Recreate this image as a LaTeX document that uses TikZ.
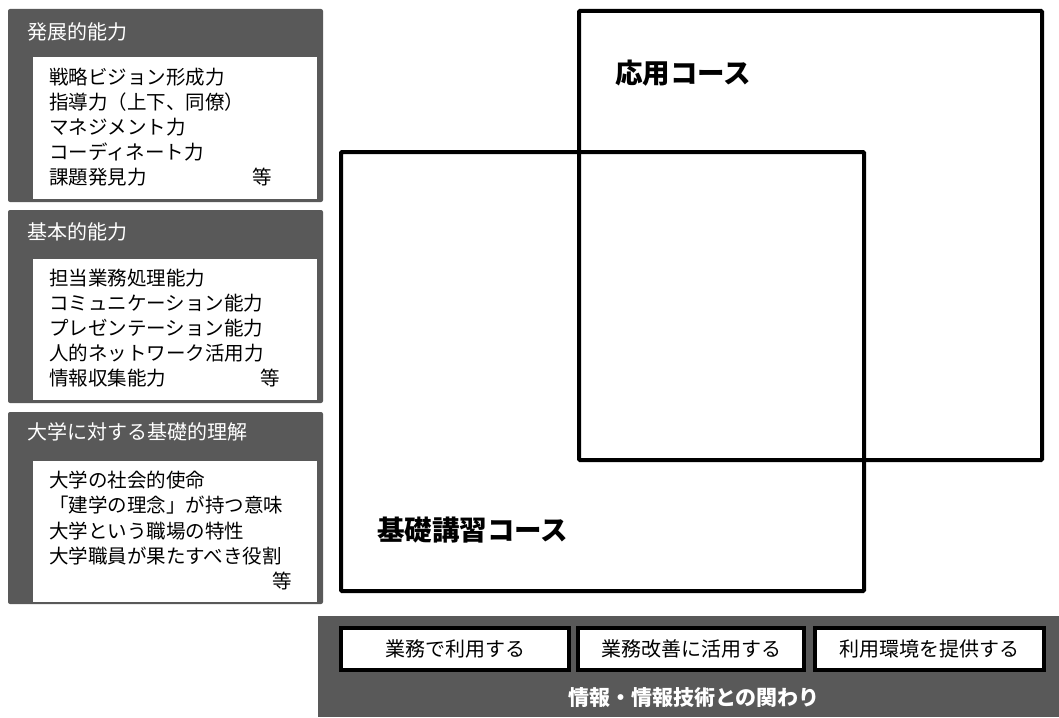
\documentclass[tikz,border=0pt]{standalone}
\usepackage{fontspec}
\setmainfont{Noto Sans CJK JP}
\definecolor{panelgray}{HTML}{595959}

\begin{document}
\begin{tikzpicture}[x=1pt,y=-1pt]
  \tikzset{panel/.style={fill=panelgray, rounded corners=2pt, anchor=north west, minimum width=315pt, inner sep=0pt, outer sep=0pt},
    sheet/.style={fill=white, anchor=north west, minimum width=284pt, minimum height=141pt, inner sep=0pt, outer sep=0pt},
    head/.style={text=white, anchor=west, inner sep=0pt, font=\fontsize{20}{20}\selectfont},
    item/.style={anchor=west, inner sep=0pt, font=\fontsize{19.5}{20}\selectfont},
    course/.style={draw, line width=4pt, rounded corners=1pt, anchor=north west, inner sep=0pt, outer sep=0pt},
    coursename/.style={anchor=west, inner sep=0pt, font=\bfseries\fontsize{27.5}{28}\selectfont},
    usebox/.style={draw, line width=3.5pt, fill=white, anchor=north west, minimum height=42pt, inner sep=0pt, outer sep=0pt, font=\fontsize{20}{20}\selectfont}}
  \useasboundingbox (0,0) rectangle (1059,717);
  % left column
  \node[panel, minimum height=193pt] (devpanel) at (8,9) {};
  \node[sheet, minimum height=142pt] (devsheet) at (33,57) {};
  \node[head] (devhead) at (27,32) {発展的能力};
  \foreach \t [count=\i] in {戦略ビジョン形成力, 指導力（上下、同僚）, マネジメント力, コーディネート力, 課題発見力}
    \node[item] (dev\i) at (49,{77+25.1*(\i-1)}) {\t};
  \node[item] (devetc) at (252,177) {等};

  \node[panel, minimum height=193pt] (basepanel) at (8,210) {};
  \node[sheet] (basesheet) at (33,259) {};
  \node[head] (basehead) at (27,232) {基本的能力};
  \foreach \t [count=\i] in {担当業務処理能力, コミュニケーション能力, プレゼンテーション能力, 人的ネットワーク活用力, 情報収集能力}
    \node[item] (base\i) at (49,{278+25*(\i-1)}) {\t};
  \node[item] (baseetc) at (260,378) {等};

  \node[panel, minimum height=192pt] (unipanel) at (8,412) {};
  \node[sheet] (unisheet) at (33,461) {};
  \node[head] (unihead) at (27,432) {大学に対する基礎的理解};
  \foreach \t [count=\i] in {大学の社会的使命, 「建学の理念」が持つ意味, 大学という職場の特性, 大学職員が果たすべき役割}
    \node[item] (uni\i) at (49,{480+25.3*(\i-1)}) {\t};
  \node[item] (unietc) at (272,581) {等};

  % courses
  \node[course, minimum width=463pt, minimum height=449pt] (applied) at (579,11) {};
  \node[course, minimum width=523pt, minimum height=439pt] (basic) at (341,152) {};
  \node[coursename] (appliedname) at (615,73) {応用コース};
  \node[coursename] (basicname) at (377,530) {基礎講習コース};

  % information band
  \node[panel, rounded corners=0pt, minimum width=741pt, minimum height=101pt] (band) at (318,616) {};
  \node[usebox, minimum width=228pt] (use1) at (341,628) {業務で利用する};
  \node[usebox, minimum width=226pt] (use2) at (578,628) {業務改善に活用する};
  \node[usebox, minimum width=229pt] (use3) at (815,628) {利用環境を提供する};
  \node[text=white, font=\bfseries\fontsize{21}{21}\selectfont] (bandname) at (694,698) {情報・情報技術との関わり};
\end{tikzpicture}
\end{document}
